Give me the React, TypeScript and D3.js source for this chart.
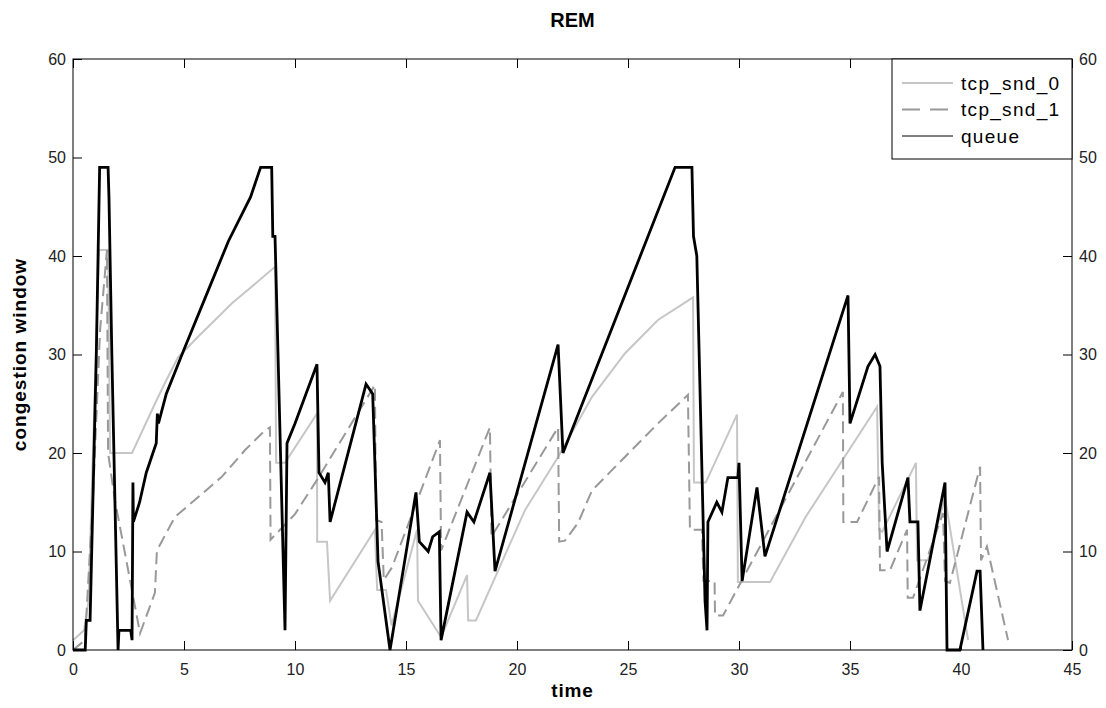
import React, { useEffect, useRef } from 'react';
import * as d3 from 'd3';

// [time, value] pairs
const tcpSnd0: [number, number][] = [
  [0, 1], [0.5, 2], [0.7, 5], [1.17, 40.6], [1.58, 40.6], [1.67, 20], [2.66, 20],
  [3.69, 25], [4.14, 27.1], [4.73, 29.7], [5.63, 31.8], [6.4, 33.5], [7.16, 35.2],
  [8.06, 36.9], [9.1, 38.9], [9.15, 19], [9.55, 19], [10.99, 24], [11.0, 11],
  [11.44, 11], [11.58, 5], [13.6, 12.2], [13.7, 6.1], [14.1, 6.1], [14.35, 2.5],
  [15.5, 12.2], [15.54, 5], [16.58, 1.3], [17.75, 7.6], [17.8, 3], [18.15, 3],
  [20.36, 14.2], [21.85, 19.6], [23.38, 25.7], [24.86, 30.1], [26.35, 33.5],
  [27.93, 35.8], [27.97, 17], [28.5, 17], [29.91, 23.9], [29.95, 6.9], [31.4, 6.9],
  [33.0, 13.5], [36.22, 24.7], [36.31, 12.2], [36.45, 12], [37.97, 19], [38.02, 9.1],
  [38.51, 9.1], [39.28, 15.5], [40.32, 1],
];

const tcpSnd1: [number, number][] = [
  [0, 0], [0.54, 1], [0.9, 15.5], [1.22, 32.5], [1.53, 40.6], [1.58, 20], [1.89, 15.2],
  [3.02, 1.7], [3.69, 5.8], [3.78, 10.1], [4.59, 13.5], [5.63, 15.5], [6.71, 17.6],
  [7.75, 20.3], [8.65, 22.3], [8.87, 22.6], [8.9, 11.2], [10.0, 13.8], [11.0, 17.3],
  [13.6, 26.9], [13.65, 13.2], [13.9, 13], [14.0, 7.1], [14.37, 8.4], [16.53, 21.3],
  [16.58, 10.1], [18.78, 22.6], [18.85, 11.5], [21.85, 22.6], [21.9, 11], [22.16, 11.1],
  [22.75, 12.9], [23.38, 16.2], [24.86, 19.6], [26.35, 23], [27.7, 25.9], [27.79, 12.2],
  [28.33, 12.2], [28.4, 7], [28.9, 7], [28.92, 3.5], [29.28, 3.5], [34.68, 26.2],
  [34.7, 13], [35.32, 13], [36.31, 17.6], [36.35, 8.1], [36.8, 8.1], [37.57, 12.2],
  [37.6, 5.3], [37.84, 5.3], [39.19, 13.9], [39.28, 7], [39.5, 6.8], [40.86, 18.6],
  [40.9, 9.1], [41.17, 10.5], [42.12, 1],
];

const queue: [number, number][] = [
  [0, 0], [0.55, 0], [0.6, 3], [0.77, 3], [1.05, 30], [1.2, 49], [1.58, 49], [1.62, 46],
  [1.75, 30], [2.03, 0], [2.07, 2], [2.6, 2], [2.66, 1], [2.7, 17], [2.72, 13], [3.0, 15],
  [3.3, 18], [3.6, 20], [3.75, 21], [3.8, 24], [3.85, 23], [4.2, 26], [5.0, 30.5],
  [6.0, 36], [7.0, 41.5], [8.0, 46], [8.45, 49], [8.95, 49], [9.0, 42], [9.1, 42],
  [9.55, 2], [9.64, 21], [10.0, 23], [10.99, 29], [11.08, 18], [11.35, 17], [11.5, 18],
  [11.58, 13], [13.2, 27], [13.5, 26], [13.74, 9], [14.28, 0], [15.45, 16], [15.6, 11],
  [16.0, 10], [16.2, 11.5], [16.5, 12], [16.58, 1], [17.75, 14], [18.06, 13], [18.78, 18],
  [19.01, 8], [21.85, 31], [22.07, 20], [27.12, 49], [27.88, 49], [27.95, 42], [28.1, 40],
  [28.47, 5], [28.56, 2], [28.6, 13], [29.0, 15], [29.23, 14], [29.5, 17.5], [29.95, 17.5],
  [30.0, 19], [30.14, 7], [30.81, 16.5], [31.17, 9.5], [34.91, 36], [35.0, 23],
  [35.81, 28.8], [36.13, 30], [36.35, 28.8], [36.45, 19], [36.67, 10], [37.61, 17.5],
  [37.7, 13], [38.06, 13], [38.15, 4], [39.28, 17], [39.37, 0], [39.95, 0], [40.72, 8],
  [40.86, 8], [40.99, 0],
];

const xTicks = [0, 5, 10, 15, 20, 25, 30, 35, 40, 45];
const yTicks = [0, 10, 20, 30, 40, 50, 60];

const series = [
  { name: 'tcp_snd_0', data: tcpSnd0, color: '#c6c6c6', width: 2, dash: null },
  { name: 'tcp_snd_1', data: tcpSnd1, color: '#999999', width: 2, dash: '12,6' },
  { name: 'queue', data: queue, color: '#000000', width: 2.8, dash: null },
];

const App = () => {
  const ref = useRef<SVGSVGElement>(null);

  useEffect(() => {
    const width = 1106;
    const height = 708;
    const left = 73, right = 1072, top = 59, bottom = 650;
    const font = '"Liberation Sans", Arial, sans-serif';

    const svg = d3.select(ref.current);
    svg.selectAll('*').remove();
    svg.attr('width', width).attr('height', height).style('font-family', font);

    svg.append('rect').attr('width', width).attr('height', height).attr('fill', '#fff');

    const x = d3.scaleLinear().domain([0, 45]).range([left, right]);
    const y = d3.scaleLinear().domain([0, 60]).range([bottom, top]);

    const line = d3.line<[number, number]>()
      .x(d => x(d[0]))
      .y(d => y(d[1]));

    series.forEach(s => {
      svg.append('path')
        .datum(s.data)
        .attr('fill', 'none')
        .attr('stroke', s.color)
        .attr('stroke-width', s.width)
        .attr('stroke-dasharray', s.dash)
        .attr('stroke-linejoin', 'miter')
        .attr('d', line);
    });

    // axes with inward ticks on all four sides
    const styleAxis = (g) => {
      g.select('.domain').remove();
      g.selectAll('.tick line').attr('stroke', '#000');
      g.selectAll('text').attr('fill', '#222').style('font-size', '16px').style('font-family', font);
    };

    svg.append('g')
      .attr('transform', `translate(0,${bottom})`)
      .call(d3.axisBottom(x).tickValues(xTicks).tickSize(-9).tickPadding(14))
      .call(styleAxis);
    svg.append('g')
      .attr('transform', `translate(0,${top})`)
      .call(d3.axisTop(x).tickValues(xTicks).tickSize(-9).tickFormat(() => ''))
      .call(styleAxis);
    svg.append('g')
      .attr('transform', `translate(${left},0)`)
      .call(d3.axisLeft(y).tickValues(yTicks).tickSize(-9).tickPadding(7))
      .call(styleAxis);
    svg.append('g')
      .attr('transform', `translate(${right},0)`)
      .call(d3.axisRight(y).tickValues(yTicks).tickSize(-9).tickPadding(7))
      .call(styleAxis);

    svg.append('rect')
      .attr('x', left).attr('y', top)
      .attr('width', right - left).attr('height', bottom - top)
      .attr('fill', 'none').attr('stroke', '#000');

    // titles
    svg.append('text')
      .attr('x', (left + right) / 2).attr('y', 27)
      .attr('text-anchor', 'middle')
      .style('font-size', '20px').style('font-weight', 'bold')
      .text('REM');
    svg.append('text')
      .attr('x', (left + right) / 2).attr('y', 697)
      .attr('text-anchor', 'middle')
      .style('font-size', '19px').style('font-weight', 'bold')
      .style('letter-spacing', '0.8px')
      .text('time');
    svg.append('text')
      .attr('transform', `translate(26,${(top + bottom) / 2}) rotate(-90)`)
      .attr('text-anchor', 'middle')
      .style('font-size', '19px').style('font-weight', 'bold')
      .style('letter-spacing', '1px')
      .text('congestion window');

    // legend
    const legend = svg.append('g').attr('transform', `translate(${right - 180},${top})`);
    legend.append('rect')
      .attr('width', 180).attr('height', 100)
      .attr('fill', '#fff').attr('stroke', '#000');
    series.forEach((s, i) => {
      const ly = 24 + i * 26.5;
      legend.append('line')
        .attr('x1', 10).attr('x2', 61).attr('y1', ly).attr('y2', ly)
        .attr('stroke', s.color)
        .attr('stroke-width', s.name === 'queue' ? 1 : 2)
        .attr('stroke-dasharray', s.dash ? '18,10' : null);
      legend.append('text')
        .attr('x', 69).attr('y', ly).attr('dy', '0.35em')
        .style('font-size', '19px')
        .style('letter-spacing', '1.3px')
        .text(s.name);
    });
  }, []);

  return (
    <div style={{ position: 'absolute', left: 0, top: 0 }}>
      <svg ref={ref} />
    </div>
  );
};

export default App;
